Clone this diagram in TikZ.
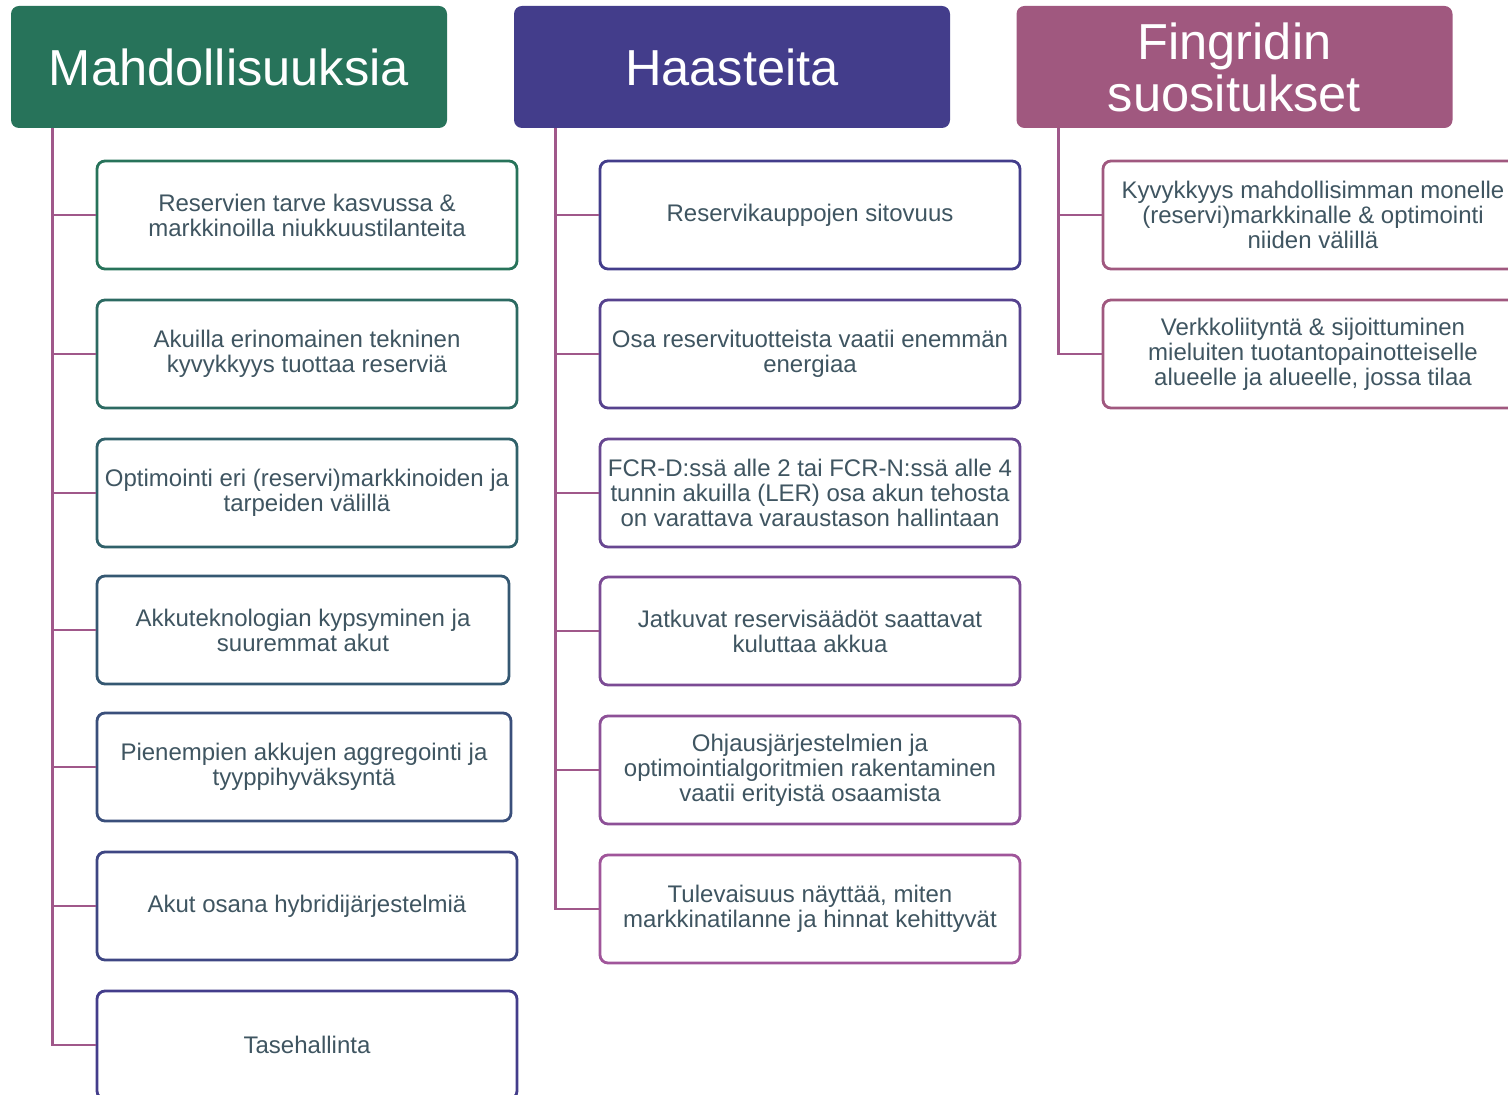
\documentclass[tikz,border=0pt]{standalone}
\usepackage{fontspec}
\setmainfont{Liberation Sans}

\definecolor{fgGreen}{HTML}{27735A}
\definecolor{fgIndigo}{HTML}{433D8B}
\definecolor{fgPurple}{HTML}{A0559A}
\definecolor{fgMauve}{HTML}{A0587F}
\definecolor{fgLine}{HTML}{A0588A}
\definecolor{fgText}{HTML}{3F5561}

\begin{document}
\begin{tikzpicture}[x=0.5pt,y=-0.5pt,
    header/.style={rounded corners=4pt, minimum width=218pt, minimum height=61pt,
        inner sep=0pt, text=white, align=center, font=\fontsize{25.3}{26}\selectfont},
    item/.style={draw, line width=1.4pt, rounded corners=4pt, fill=white,
        minimum width=210pt, minimum height=54pt, inner sep=2pt,
        text=fgText, align=center, font=\fontsize{12}{12.5}\selectfont},
    branch/.style={draw=fgLine, line width=1.4pt}]
        \useasboundingbox (0,0) rectangle (1508,1095);
        % Headers
        \node[header, fill=fgGreen] (mahd) at (229,67) {Mahdollisuuksia};
        \node[header, fill=fgIndigo] (haas) at (732,67) {Haasteita};
        \node[header, fill=fgMauve] (suos) at (1234.5,67) {Fingridin\\suositukset};
        % Opportunities
        \node[item, draw=fgGreen] (m1) at (307,215) {Reservien tarve kasvussa \&\\markkinoilla niukkuustilanteita};
        \node[item, draw=fgIndigo!17!fgGreen] (m2) at (307,354) {Akuilla erinomainen tekninen\\kyvykkyys tuottaa reserviä};
        \node[item, draw=fgIndigo!33!fgGreen] (m3) at (307,493) {Optimointi eri (reservi)markkinoiden ja\\tarpeiden välillä};
        \node[item, draw=fgIndigo!50!fgGreen, minimum width=206pt] (m4) at (303,630) {Akkuteknologian kypsyminen ja\\suuremmat akut};
        \node[item, draw=fgIndigo!67!fgGreen, minimum width=207pt] (m5) at (304,767) {Pienempien akkujen aggregointi ja\\tyyppihyväksyntä};
        \node[item, draw=fgIndigo!83!fgGreen] (m6) at (307,906) {Akut osana hybridijärjestelmiä};
        \node[item, draw=fgIndigo] (m7) at (307,1045) {Tasehallinta};
        % Challenges
        \node[item, draw=fgIndigo] (h1) at (810,215) {Reservikauppojen sitovuus};
        \node[item, draw=fgPurple!20!fgIndigo] (h2) at (810,354) {Osa reservituotteista vaatii enemmän\\energiaa};
        \node[item, draw=fgPurple!40!fgIndigo] (h3) at (810,493) {FCR-D:ssä alle 2 tai FCR-N:ssä alle 4\\tunnin akuilla (LER) osa akun tehosta\\on varattava varaustason hallintaan};
        \node[item, draw=fgPurple!60!fgIndigo] (h4) at (810,631) {Jatkuvat reservisäädöt saattavat\\kuluttaa akkua};
        \node[item, draw=fgPurple!80!fgIndigo] (h5) at (810,770) {Ohjausjärjestelmien ja\\optimointialgoritmien rakentaminen\\vaatii erityistä osaamista};
        \node[item, draw=fgPurple] (h6) at (810,909) {Tulevaisuus näyttää, miten\\markkinatilanne ja hinnat kehittyvät};
        % Recommendations
        \node[item, draw=fgMauve] (s1) at (1313,215) {Kyvykkyys mahdollisimman monelle\\(reservi)markkinalle \& optimointi\\niiden välillä};
        \node[item, draw=fgMauve] (s2) at (1313,354) {Verkkoliityntä \& sijoittuminen\\mieluiten tuotantopainotteiselle\\alueelle ja alueelle, jossa tilaa};
        % Draw tree lines
        \coordinate (mtop) at ([xshift=21pt]mahd.south west);
        \coordinate (htop) at ([xshift=21pt]haas.south west);
        \coordinate (stop) at ([xshift=21pt]suos.south west);
        \foreach \b in {m1,m2,m3,m4,m5,m6,m7}
            \draw[branch] (mtop) |- (\b.west);
        \foreach \b in {h1,h2,h3,h4,h5,h6}
            \draw[branch] (htop) |- (\b.west);
        \foreach \b in {s1,s2}
            \draw[branch] (stop) |- (\b.west);
\end{tikzpicture}
\end{document}
